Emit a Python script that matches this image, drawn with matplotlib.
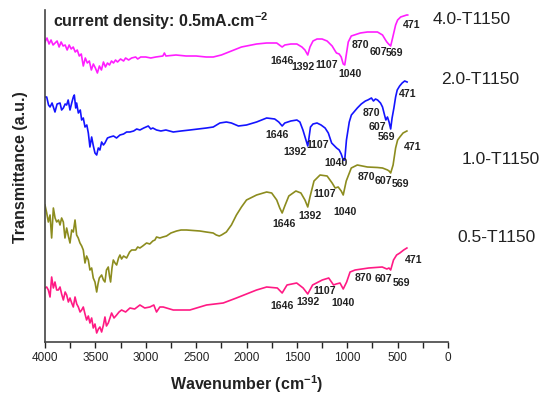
import numpy as np
import matplotlib
matplotlib.use('Agg')
import matplotlib.pyplot as plt
from matplotlib.ticker import MultipleLocator

plt.rcParams['font.family'] = ['Liberation Sans', 'DejaVu Sans']
plt.rcParams['mathtext.fontset'] = 'custom'
plt.rcParams['mathtext.bf'] = 'Liberation Sans:bold'
plt.rcParams['mathtext.rm'] = 'Liberation Sans'
plt.rcParams['mathtext.default'] = 'bf'

# FTIR spectra, wavenumber (cm-1) and transmittance (a.u., offset stacked)
wn_40 = [4000, 3980, 3960, 3940, 3920, 3900, 3880, 3860, 3840, 3820, 3800, 3780, 3760, 3740,
         3720, 3700, 3680, 3660, 3640, 3620, 3600, 3580, 3560, 3540, 3520, 3500, 3480, 3460,
         3440, 3420, 3400, 3380, 3360, 3340, 3320, 3300, 3280, 3250, 3220, 3200, 3170, 3140,
         3100, 3080, 3050, 3000, 2950, 2900, 2830, 2815, 2800, 2700, 2600, 2500, 2400, 2330,
         2250, 2150, 2050, 2000, 1900, 1800, 1700, 1660, 1646, 1620, 1560, 1500, 1450, 1420,
         1392, 1370, 1340, 1300, 1250, 1200, 1150, 1120, 1107, 1080, 1060, 1040, 1025, 1010,
         990, 960, 900, 870, 800, 700, 650, 620, 607, 590, 569, 550, 520, 500, 470, 440, 410, 400]
t_40 = [300, 304, 298, 302, 297, 299, 301, 295, 300, 296, 297, 292, 297, 293,
        295, 290, 292, 286, 288, 276, 284, 279, 281, 272, 278, 274, 269, 276,
        272, 280, 275, 279, 277, 281, 279, 282, 280, 283, 281, 284, 282, 284,
        285, 283, 285, 285, 284, 285, 286, 289, 286, 287, 286, 286, 285, 285,
        287, 291, 295, 296, 298, 299, 299, 296, 295, 297, 298, 298, 295, 292,
        287, 295, 301, 303, 303, 301, 296, 291, 289, 288, 285, 278, 277, 287,
        300, 306, 308, 309, 310, 310, 307, 302, 300, 298, 296, 304, 317, 322, 325, 326, 327, 327]

wn_20 = [4000, 3983, 3965, 3950, 3930, 3901, 3880, 3851, 3835, 3818, 3800, 3785, 3770, 3752,
         3735, 3719, 3709, 3695, 3686, 3669, 3650, 3636, 3620, 3603, 3585, 3570, 3554, 3537,
         3520, 3504, 3487, 3471, 3455, 3438, 3420, 3405, 3380, 3355, 3320, 3290, 3256, 3220,
         3190, 3157, 3120, 3090, 3058, 3020, 2975, 2950, 2930, 2893, 2850, 2800, 2727, 2650,
         2562, 2480, 2397, 2330, 2264, 2200, 2150, 2080, 2000, 1900, 1800, 1720, 1680, 1646,
         1620, 1560, 1500, 1470, 1440, 1410, 1392, 1380, 1365, 1340, 1300, 1260, 1220, 1188,
         1155, 1106, 1080, 1060, 1040, 1025, 1008, 980, 959, 900, 861, 820, 796, 760, 740, 720,
         699, 670, 650, 630, 617, 601, 585, 569, 555, 537, 520, 504, 480, 455, 430, 406]
t_20 = [245, 245, 237, 235, 239, 230, 238, 239, 232, 234, 238, 237, 242, 232,
        239, 245, 247, 234, 239, 229, 232, 222, 224, 215, 217, 209, 195, 205,
        196, 189, 187, 194, 192, 200, 197, 199, 204, 205, 206, 204, 207, 208,
        210, 210, 211, 213, 212, 214, 216, 213, 214, 212, 211, 212, 210, 211,
        212, 213, 214, 215, 219, 220, 219, 216, 217, 220, 224, 223, 220, 216,
        219, 221, 222, 220, 212, 202, 196, 204, 215, 218, 219, 217, 214, 209,
        199, 194, 192, 188, 182, 182, 202, 220, 227, 234, 238, 241, 242, 244, 241, 243,
        242, 239, 235, 227, 222, 225, 220, 213, 224, 234, 245, 252, 256, 259, 261, 260]

wn_10 = [4000, 3983, 3967, 3950, 3934, 3917, 3900, 3884, 3866, 3851, 3835, 3818, 3802, 3785,
         3768, 3752, 3735, 3719, 3702, 3686, 3670, 3653, 3636, 3620, 3603, 3587, 3570, 3554,
         3537, 3521, 3504, 3487, 3474, 3461, 3438, 3420, 3405, 3390, 3372, 3360, 3349, 3335,
         3322, 3305, 3289, 3270, 3256, 3240, 3220, 3190, 3160, 3140, 3100, 3080, 3058, 3030,
         2992, 2960, 2930, 2909, 2893, 2860, 2830, 2794, 2750, 2694, 2650, 2595, 2530, 2463,
         2400, 2331, 2300, 2270, 2248, 2200, 2150, 2100, 2050, 2000, 1900, 1800, 1750, 1700,
         1670, 1646, 1620, 1580, 1510, 1460, 1420, 1392, 1370, 1330, 1270, 1200, 1150, 1120,
         1090, 1060, 1040, 1010, 960, 900, 800, 700, 650, 600, 585, 569, 545, 520, 500, 478, 446, 408]
t_10 = [137, 129, 120, 127, 104, 134, 124, 120, 122, 117, 124, 120, 104, 114,
        106, 99, 112, 110, 122, 107, 104, 99, 96, 92, 79, 86, 82, 72,
        74, 64, 60, 50, 58, 64, 67, 62, 60, 72, 75, 66, 60, 74,
        82, 79, 77, 84, 87, 83, 86, 84, 90, 92, 92, 95, 94, 96,
        99, 98, 101, 102, 105, 104, 105, 106, 109, 111, 112, 112, 111.5, 111,
        110, 109, 107, 106, 107, 110, 117, 127, 135, 142, 147, 150, 149, 142,
        134, 129, 136, 146, 151, 149, 142, 135, 145, 161, 167, 166, 159, 154,
        155, 151, 147, 161, 174, 177, 175, 174.5, 174, 172, 171, 169, 177, 194, 202, 205, 209, 211]

wn_05 = [4000, 3983, 3967, 3950, 3934, 3917, 3901, 3884, 3868, 3851, 3835, 3818, 3800, 3785,
         3768, 3752, 3735, 3719, 3702, 3685, 3669, 3652, 3636, 3620, 3603, 3587, 3570, 3554,
         3537, 3521, 3504, 3487, 3470, 3455, 3438, 3420, 3405, 3390, 3372, 3355, 3339, 3315,
         3289, 3265, 3240, 3200, 3157, 3110, 3058, 3010, 2959, 2920, 2893, 2860, 2827, 2727,
         2562, 2397, 2231, 2100, 2000, 1900, 1800, 1694, 1646, 1598, 1502, 1438, 1392, 1344,
         1248, 1184, 1136, 1110, 1072, 1040, 1006, 972, 922, 787, 653, 607, 586, 569, 541, 510,
         478, 440, 408]
t_05 = [54, 55, 52, 45, 65, 54, 60, 52, 52, 55, 48, 42, 50, 47,
        40, 44, 39, 35, 45, 38, 35, 30, 32, 35, 28, 22, 26, 19,
        24, 14, 18, 9, 13, 15, 10, 17, 25, 16, 19, 24, 29, 24,
        27, 30, 32, 30, 34, 33, 37, 34, 35, 37, 30, 35, 35, 32,
        32, 37, 39, 44, 48, 52, 55, 54, 49, 57, 59, 54, 48, 57,
        62, 64, 57, 58, 59, 53, 60, 70, 72, 74, 75, 73, 74, 72, 82, 87,
        89, 92, 94]

names = ['4.0-T1150', '2.0-T1150', '1.0-T1150', '0.5-T1150']
colors = ['#ff1eff', '#1414ff', '#8c8c1e', '#ff1a84']
peaks = ['1646', '1392', '1107', '1040', '870', '607', '569', '471']

# where each peak label sits (wavenumber, height) per spectrum
peak_pos = {
    '4.0-T1150': [(1649, 281), (1440, 275), (1202, 277), (975, 268), (865, 297), (686, 290), (528, 289), (360, 317)],
    '2.0-T1150': [(1700, 207), (1520, 190), (1290, 197), (1110, 179), (756, 229), (696, 215), (607, 205), (400, 248)],
    '1.0-T1150': [(1625, 118), (1370, 126), (1222, 148), (1020, 130), (805, 165), (640, 161), (470, 158), (350, 195)],
    '0.5-T1150': [(1646, 36), (1392, 40), (1220, 51), (1040, 39), (837, 64), (645, 63), (463, 59), (340, 82)],
}
name_pos = [(472, 20), (480, 79), (501, 159), (497, 237)]

W, H = 544, 396
fig = plt.figure(figsize=(W / 100, H / 100), dpi=100)
ax = fig.add_axes([45 / W, 54 / H, 403 / W, 332 / H])

spectra = [(wn_40, t_40), (wn_20, t_20), (wn_10, t_10), (wn_05, t_05)]
for (x, y), c, name in zip(spectra, colors, names):
    ax.plot(x, y, color=c, lw=1.2)
    for txt, (px, py) in zip(peaks, peak_pos[name]):
        ax.text(px, py, txt, fontsize=7.6, fontweight='bold', color='#222222',
                ha='center', va='center')

for name, (px, py) in zip(names, name_pos):
    fig.text(px / W, 1 - py / H, name, fontsize=12.5, color='#222222',
             ha='center', va='center')

ax.set_xlim(4000, 0)
ax.set_ylim(0, 332)
ax.xaxis.set_major_locator(MultipleLocator(500))
ax.xaxis.set_minor_locator(MultipleLocator(250))
ax.tick_params(axis='x', which='both', direction='out', length=4, width=1,
               labelsize=8.5, colors='#222222', pad=3)
ax.set_yticks([])
for s in ['top', 'right']:
    ax.spines[s].set_visible(False)
for s in ['left', 'bottom']:
    ax.spines[s].set_color('#444444')
    ax.spines[s].set_linewidth(1.2)

fig.text(53 / W, 1 - 21 / H, 'current density: 0.5mA.cm$^{-2}$', fontsize=11.5,
         fontweight='bold', color='#222222', ha='left', va='center')
fig.text(21 / W, 1 - 167 / H, 'Transmittance (a.u.)', fontsize=11.5, fontweight='bold',
         rotation=90, color='#222222', ha='center', va='center')
fig.text(247 / W, 1 - 384 / H, 'Wavenumber (cm$^{-1}$)', fontsize=11.5, fontweight='bold',
         color='#222222', ha='center', va='center')

fig.savefig('out.png', dpi=100)
